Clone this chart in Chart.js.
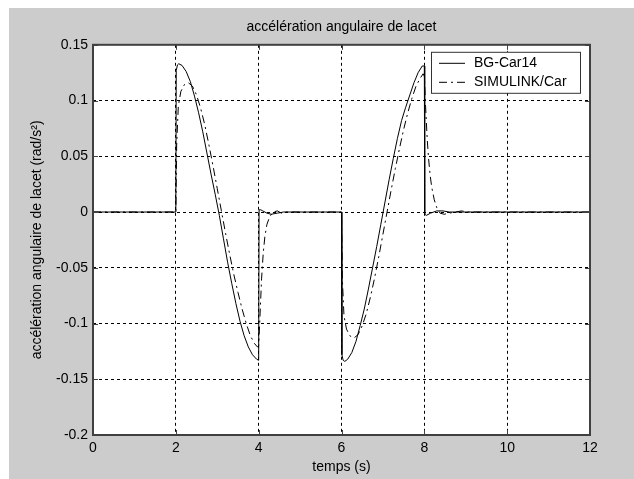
<!DOCTYPE html>
<html>
<head>
<meta charset="utf-8">
<script src="https://cdn.jsdelivr.net/npm/chart.js@4.4.1/dist/chart.umd.min.js"></script>
<style>
  html, body { margin: 0; padding: 0; background: #fff; }
  #frame { position: absolute; left: 9px; top: 8px; width: 625px; height: 471px; background: #cccccc; }
  canvas { display: block; }
</style>
</head>
<body>
<div id="frame"><canvas id="chart" width="625" height="471"></canvas></div>
<script>
'use strict';

const titleText = 'accélération angulaire de lacet';
const xTitle = 'temps (s)';
const yTitle = 'accélération angulaire de lacet (rad/s²)';
const seriesNames = ['BG-Car14', 'SIMULINK/Car'];

const xTicks = [0, 2, 4, 6, 8, 10, 12];
const xTickLabels = ['0', '2', '4', '6', '8', '10', '12'];
const yTicks = [-0.2, -0.15, -0.1, -0.05, 0, 0.05, 0.1, 0.15];
const yTickLabels = ['-0.2', '-0.15', '-0.1', '-0.05', '0', '0.05', '0.1', '0.15'];

// BG-Car14 (solid)
const bgTime = [
  0, 2, 2.01, 2.04, 2.07, 2.15, 2.25, 2.35, 2.45, 2.55, 2.65, 2.75, 2.85, 2.95,
  3.05, 3.15, 3.25, 3.35, 3.45, 3.55, 3.65, 3.75, 3.85, 3.95, 4.0,
  4.01, 4.05, 4.1, 4.2, 4.3, 4.45, 4.6,
  6.0, 6.01, 6.04, 6.08, 6.15, 6.25, 6.35, 6.45, 6.55, 6.65, 6.75, 6.85, 6.95,
  7.05, 7.15, 7.25, 7.35, 7.45, 7.55, 7.65, 7.75, 7.85, 7.95, 8.0,
  8.01, 8.05, 8.15, 8.3, 8.45, 8.6, 12
];
const bgValue = [
  0, 0, 0.127, 0.132, 0.133, 0.1315, 0.126, 0.117, 0.104, 0.089, 0.072, 0.053, 0.034, 0.016,
  -0.003, -0.024, -0.045, -0.064, -0.082, -0.098, -0.111, -0.121, -0.128, -0.132, -0.133,
  0.002, 0.002, 0.001, -0.001, -0.002, -0.001, 0,
  0, -0.128, -0.133, -0.134, -0.132, -0.126, -0.116, -0.102, -0.087, -0.069, -0.05, -0.031, -0.011,
  0.009, 0.029, 0.048, 0.066, 0.082, 0.094, 0.105, 0.116, 0.125, 0.131, 0.131,
  -0.002, -0.003, -0.001, 0.001, 0.001, 0, 0
];

// SIMULINK/Car (dash-dot)
const simTime = [
  0, 2.0, 2.02, 2.06, 2.12, 2.2, 2.3, 2.4, 2.5, 2.6, 2.7, 2.8, 2.9,
  3.0, 3.1, 3.2, 3.3, 3.4, 3.5, 3.6, 3.7, 3.8, 3.9, 3.97, 4.0,
  4.03, 4.07, 4.11, 4.15, 4.2, 4.27, 4.35, 4.45, 4.55, 4.65,
  6.0, 6.02, 6.06, 6.12, 6.2, 6.3, 6.4, 6.5, 6.6, 6.7, 6.8, 6.9,
  7.0, 7.1, 7.2, 7.3, 7.4, 7.5, 7.6, 7.7, 7.8, 7.9, 7.97, 8.0,
  8.03, 8.07, 8.1, 8.14, 8.18, 8.24, 8.3, 8.38, 8.48, 8.6, 8.75, 8.9, 9.05, 12
];
const simValue = [
  0, 0, 0.06, 0.095, 0.108, 0.114, 0.116, 0.113, 0.105, 0.093, 0.078, 0.06, 0.041,
  0.021, 0.001, -0.019, -0.038, -0.056, -0.072, -0.087, -0.1, -0.111, -0.118, -0.121, -0.12,
  -0.095, -0.06, -0.037, -0.022, -0.011, -0.004, 0, 0.001, -0.001, 0,
  0, -0.06, -0.093, -0.105, -0.111, -0.113, -0.11, -0.102, -0.091, -0.076, -0.059, -0.04,
  -0.02, 0, 0.02, 0.039, 0.057, 0.074, 0.089, 0.102, 0.113, 0.12, 0.124, 0.122,
  0.095, 0.065, 0.049, 0.033, 0.022, 0.011, 0.004, -0.001, -0.002, -0.001, 0, 0.001, 0, 0
];

const FONT = { family: "'Liberation Sans', Arial, sans-serif", size: 14 };
const SIM_DASH = [8, 4, 2, 4];
const GRID_DASH = [3, 3];

const toPoints = (ts, vs) => ts.map((t, i) => ({ x: t, y: vs[i] }));

const plotBackground = {
  id: 'plotBackground',
  beforeDraw(chart) {
    const { ctx, chartArea: a } = chart;
    ctx.save();
    ctx.fillStyle = '#fff';
    ctx.fillRect(a.left, a.top, a.right - a.left, a.bottom - a.top);
    ctx.restore();
  },
};

const axesFrame = {
  id: 'axesFrame',
  afterDraw(chart) {
    const { ctx, chartArea: a, scales } = chart;
    ctx.save();
    ctx.strokeStyle = '#404040';
    ctx.lineWidth = 1;
    ctx.setLineDash([]);
    ctx.beginPath();
    xTicks.forEach(v => {
      const px = Math.round(scales.x.getPixelForValue(v)) + 0.5;
      ctx.moveTo(px, a.bottom); ctx.lineTo(px, a.bottom - 5);
      ctx.moveTo(px, a.top); ctx.lineTo(px, a.top + 5);
    });
    yTicks.forEach(v => {
      const py = Math.round(scales.y.getPixelForValue(v)) + 0.5;
      ctx.moveTo(a.left, py); ctx.lineTo(a.left + 5, py);
      ctx.moveTo(a.right, py); ctx.lineTo(a.right - 5, py);
    });
    ctx.stroke();
    ctx.lineWidth = 2;
    ctx.strokeRect(a.left, a.top, a.right - a.left, a.bottom - a.top);
    ctx.restore();
  },
};

const legendBox = {
  id: 'legendBox',
  afterDraw(chart) {
    const { ctx, chartArea: a } = chart;
    const x0 = a.right - 159, y0 = a.top + 7, w = 149, h = 41;
    ctx.save();
    ctx.fillStyle = '#fff';
    ctx.fillRect(x0, y0, w, h);
    ctx.strokeStyle = '#333';
    ctx.lineWidth = 1;
    ctx.strokeRect(x0 + 0.5, y0 + 0.5, w, h);
    ctx.font = `${FONT.size}px ${FONT.family}`;
    ctx.textBaseline = 'middle';
    ctx.fillStyle = '#000';
    const rows = [y0 + 11.5, y0 + 30.5];
    chart.data.datasets.forEach((ds, i) => {
      ctx.strokeStyle = '#000';
      ctx.setLineDash(ds.borderDash || []);
      ctx.beginPath();
      ctx.moveTo(x0 + 8, rows[i]);
      ctx.lineTo(x0 + 34, rows[i]);
      ctx.stroke();
      ctx.fillText(seriesNames[i], x0 + 43, rows[i]);
    });
    ctx.restore();
  },
};

new Chart(document.getElementById('chart'), {
  type: 'line',
  data: {
    datasets: [
      {
        label: seriesNames[0],
        data: toPoints(bgTime, bgValue),
        borderColor: '#000',
        borderWidth: 1,
        pointRadius: 0,
        tension: 0,
      },
      {
        label: seriesNames[1],
        data: toPoints(simTime, simValue),
        borderColor: '#000',
        borderWidth: 1,
        borderDash: SIM_DASH,
        pointRadius: 0,
        tension: 0,
      },
    ],
  },
  options: {
    responsive: false,
    animation: false,
    devicePixelRatio: 1,
    layout: { padding: { left: 0, right: 44, top: 0, bottom: 0 } },
    scales: {
      x: {
        type: 'linear',
        min: 0, max: 12,
        afterBuildTicks: s => { s.ticks = xTicks.map(v => ({ value: v })); },
        afterFit: s => { s.height = 44; },
        ticks: {
          font: FONT, color: '#000', padding: 5, maxRotation: 0,
          callback: (v) => xTickLabels[xTicks.indexOf(v)] ?? '',
        },
        grid: { color: '#000', lineWidth: 1, drawTicks: false },
        border: { display: false, dash: GRID_DASH },
        title: { display: true, text: xTitle, font: FONT, color: '#000', padding: { top: 0, bottom: 3 } },
      },
      y: {
        min: -0.2, max: 0.15,
        afterBuildTicks: s => { s.ticks = yTicks.map(v => ({ value: v })); },
        afterFit: s => { s.width = 84; },
        ticks: {
          font: FONT, color: '#000', padding: 5,
          callback: (v) => yTickLabels[yTicks.findIndex(t => Math.abs(t - v) < 1e-9)] ?? '',
        },
        grid: { color: '#000', lineWidth: 1, drawTicks: false },
        border: { display: false, dash: GRID_DASH },
        title: { display: true, text: yTitle, font: FONT, color: '#000', padding: { top: 20, bottom: 0 } },
      },
    },
    plugins: {
      legend: { display: false },
      tooltip: { enabled: false },
      title: {
        display: true, text: titleText, fullSize: false,
        font: { ...FONT, weight: 'normal' }, color: '#000',
        padding: { top: 11, bottom: 9 },
      },
    },
  },
  plugins: [plotBackground, axesFrame, legendBox],
});
</script>
</body>
</html>
